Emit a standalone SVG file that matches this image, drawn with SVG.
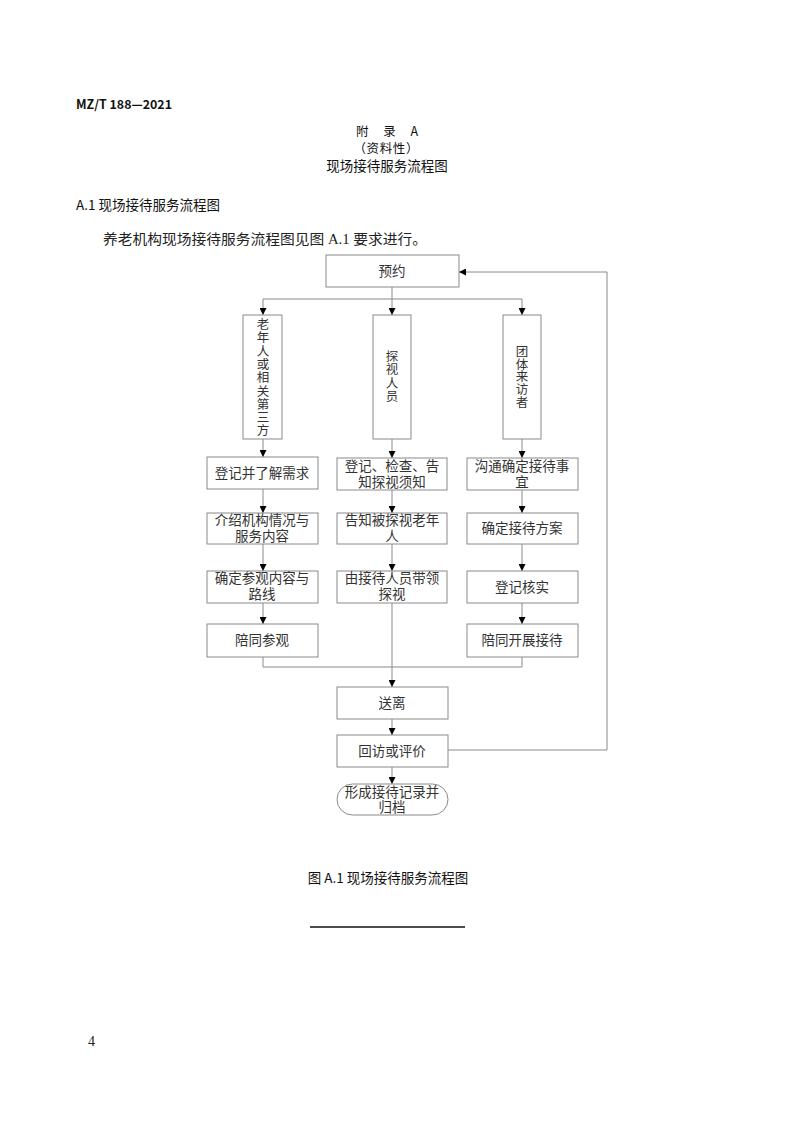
<svg xmlns="http://www.w3.org/2000/svg" width="793" height="1122" viewBox="0 0 793 1122">
<style>
.bg{fill:#ffffff}
.box{fill:#ffffff;stroke:#8a8a8a;stroke-width:1}
.ln{fill:none;stroke:#8a8a8a;stroke-width:1}
.t{font-family:"Liberation Serif","Noto Sans CJK SC",serif;font-size:13.5px;fill:#333333;text-anchor:middle}
.v{font-family:"Liberation Serif","Noto Sans CJK SC",serif;font-size:12.5px;fill:#333333;text-anchor:middle}
.h{font-family:"Noto Sans CJK SC","Liberation Sans",sans-serif;fill:#111111}
.body{font-family:"Liberation Serif","Noto Sans CJK SC",serif;font-size:14px;fill:#222222}
</style>
<defs>
<marker id="arr" viewBox="0 0 8 8" refX="8" refY="4" markerWidth="7" markerHeight="7" markerUnits="userSpaceOnUse" orient="auto">
<path d="M0,0 L8,4 L0,8 z" fill="#000000"/>
</marker>
</defs>
<rect class="bg" x="0" y="0" width="793" height="1122"/>

<g id="page-text">
<text class="h" x="76" y="109" font-size="12.5" font-weight="bold" textLength="96" lengthAdjust="spacingAndGlyphs">MZ/T 188—2021</text>
<text class="h" x="356" y="136" font-size="12.5" textLength="62" lengthAdjust="spacing">附 录 A</text>
<text class="h" x="386" y="153" font-size="12.5" text-anchor="middle" textLength="65" lengthAdjust="spacing">（资料性）</text>
<text class="h" x="387" y="171" font-size="13.5" text-anchor="middle">现场接待服务流程图</text>
<text class="h" x="76" y="210" font-size="13.5">A.1 现场接待服务流程图</text>
<text class="body" x="103" y="244" textLength="324" lengthAdjust="spacingAndGlyphs">养老机构现场接待服务流程图见图 A.1 要求进行。</text>
<text class="h" x="388" y="883" font-size="13.5" text-anchor="middle">图 A.1 现场接待服务流程图</text>
<text class="body" x="88" y="1046" font-size="12" fill="#666666">4</text>
<line x1="310" y1="927" x2="465" y2="927" stroke="#111111" stroke-width="1.5"/>
</g>

<g id="connectors">
<line class="ln" x1="392" y1="287" x2="392" y2="299"/>
<line class="ln" x1="263" y1="299" x2="522" y2="299"/>
<line class="ln" x1="263" y1="299" x2="263" y2="315" marker-end="url(#arr)"/>
<line class="ln" x1="392" y1="299" x2="392" y2="315" marker-end="url(#arr)"/>
<line class="ln" x1="522" y1="299" x2="522" y2="315" marker-end="url(#arr)"/>

<line class="ln" x1="263" y1="439" x2="263" y2="457" marker-end="url(#arr)"/>
<line class="ln" x1="392" y1="439" x2="392" y2="458" marker-end="url(#arr)"/>
<line class="ln" x1="522" y1="439" x2="522" y2="458" marker-end="url(#arr)"/>

<line class="ln" x1="263" y1="489" x2="263" y2="513" marker-end="url(#arr)"/>
<line class="ln" x1="392" y1="490" x2="392" y2="513" marker-end="url(#arr)"/>
<line class="ln" x1="522" y1="490" x2="522" y2="513" marker-end="url(#arr)"/>

<line class="ln" x1="263" y1="544" x2="263" y2="571" marker-end="url(#arr)"/>
<line class="ln" x1="392" y1="544" x2="392" y2="571" marker-end="url(#arr)"/>
<line class="ln" x1="522" y1="544" x2="522" y2="571" marker-end="url(#arr)"/>

<line class="ln" x1="263" y1="603" x2="263" y2="624" marker-end="url(#arr)"/>
<line class="ln" x1="522" y1="603" x2="522" y2="624" marker-end="url(#arr)"/>

<polyline class="ln" points="263,657 263,667 522,667 522,657"/>
<line class="ln" x1="392" y1="603" x2="392" y2="687" marker-end="url(#arr)"/>

<line class="ln" x1="392" y1="719" x2="392" y2="735" marker-end="url(#arr)"/>
<line class="ln" x1="392" y1="767" x2="392" y2="784" marker-end="url(#arr)"/>

<polyline class="ln" points="448,750 607,750 607,272 459,272" marker-end="url(#arr)"/>
</g>

<g id="n-yuyue">
<rect class="box" x="326" y="255" width="133" height="32"/>
<text class="t" x="392" y="276">预约</text>
</g>

<g id="n-laonianren">
<rect class="box" x="243" y="315" width="39" height="124"/>
<text class="v"><tspan x="263" y="329">老</tspan><tspan x="263" y="342.3">年</tspan><tspan x="263" y="355.6">人</tspan><tspan x="263" y="368.9">或</tspan><tspan x="263" y="382.2">相</tspan><tspan x="263" y="395.5">关</tspan><tspan x="263" y="408.8">第</tspan><tspan x="263" y="422.1">三</tspan><tspan x="263" y="435.4">方</tspan></text>
</g>

<g id="n-tanshi">
<rect class="box" x="373" y="315" width="38" height="124"/>
<text class="v"><tspan x="392" y="361">探</tspan><tspan x="392" y="374.3">视</tspan><tspan x="392" y="387.6">人</tspan><tspan x="392" y="400.9">员</tspan></text>
</g>

<g id="n-tuanti">
<rect class="box" x="503" y="315" width="38" height="124"/>
<text class="v"><tspan x="522" y="356">团</tspan><tspan x="522" y="368.7">体</tspan><tspan x="522" y="381.4">来</tspan><tspan x="522" y="394.1">访</tspan><tspan x="522" y="406.8">者</tspan></text>
</g>

<g id="n-l1">
<rect class="box" x="207" y="457" width="111" height="32"/>
<text class="t" x="262" y="478">登记并了解需求</text>
</g>
<g id="n-l2">
<rect class="box" x="207" y="513" width="111" height="31"/>
<text class="t"><tspan x="262" y="525">介绍机构情况与</tspan><tspan x="262" y="541">服务内容</tspan></text>
</g>
<g id="n-l3">
<rect class="box" x="207" y="571" width="111" height="32"/>
<text class="t"><tspan x="262" y="583">确定参观内容与</tspan><tspan x="262" y="599">路线</tspan></text>
</g>
<g id="n-l4">
<rect class="box" x="207" y="624" width="111" height="33"/>
<text class="t" x="262" y="645">陪同参观</text>
</g>

<g id="n-m1">
<rect class="box" x="337" y="458" width="110" height="32"/>
<text class="t"><tspan x="392" y="471">登记、检查、告</tspan><tspan x="392" y="487">知探视须知</tspan></text>
</g>
<g id="n-m2">
<rect class="box" x="337" y="513" width="110" height="31"/>
<text class="t"><tspan x="392" y="525">告知被探视老年</tspan><tspan x="392" y="541">人</tspan></text>
</g>
<g id="n-m3">
<rect class="box" x="337" y="571" width="110" height="32"/>
<text class="t"><tspan x="392" y="583">由接待人员带领</tspan><tspan x="392" y="599">探视</tspan></text>
</g>

<g id="n-r1">
<rect class="box" x="467" y="458" width="111" height="32"/>
<text class="t"><tspan x="522" y="471">沟通确定接待事</tspan><tspan x="522" y="487">宜</tspan></text>
</g>
<g id="n-r2">
<rect class="box" x="467" y="513" width="111" height="31"/>
<text class="t" x="522" y="533">确定接待方案</text>
</g>
<g id="n-r3">
<rect class="box" x="467" y="571" width="111" height="32"/>
<text class="t" x="522" y="592">登记核实</text>
</g>
<g id="n-r4">
<rect class="box" x="467" y="624" width="111" height="33"/>
<text class="t" x="522" y="645">陪同开展接待</text>
</g>

<g id="n-songli">
<rect class="box" x="337" y="687" width="111" height="32"/>
<text class="t" x="392" y="708">送离</text>
</g>
<g id="n-huifang">
<rect class="box" x="337" y="735" width="111" height="32"/>
<text class="t" x="392" y="756">回访或评价</text>
</g>
<g id="n-guidang">
<rect class="box" x="337" y="784" width="111" height="31" rx="15.5" ry="15.5"/>
<text class="t"><tspan x="392" y="797">形成接待记录并</tspan><tspan x="392" y="812">归档</tspan></text>
</g>
</svg>
